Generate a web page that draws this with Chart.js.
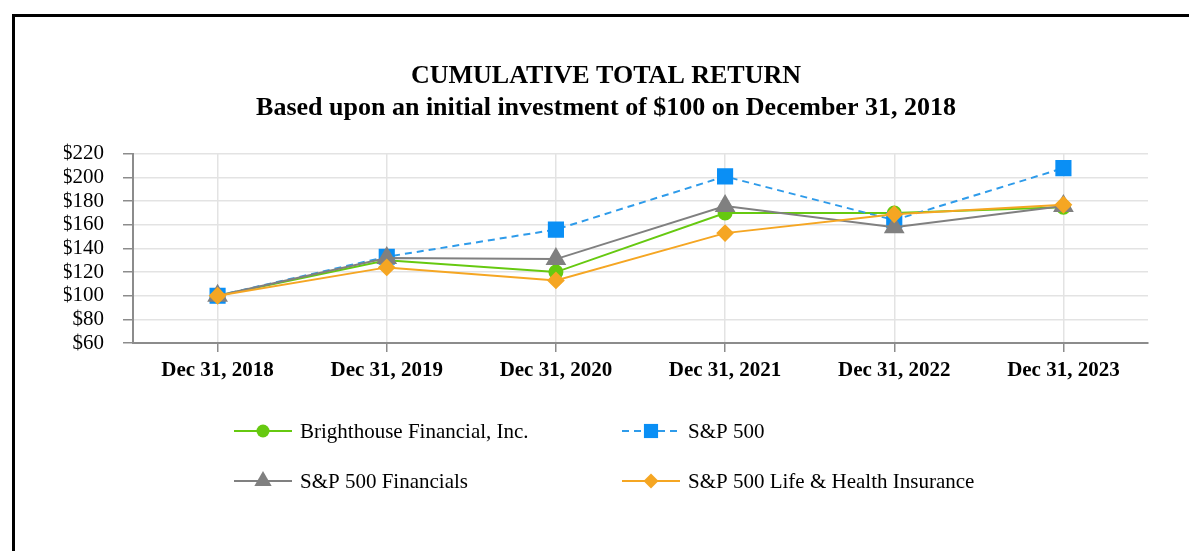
<!DOCTYPE html>
<html>
<head>
<meta charset="utf-8">
<script src="https://cdn.jsdelivr.net/npm/chart.js@4.4.1/dist/chart.umd.min.js"></script>
<style>
  html, body { margin: 0; padding: 0; background: #fff; }
  #wrap { position: relative; width: 1189px; height: 551px; overflow: hidden; }
  #frame { position: absolute; left: 12px; top: 14px; width: 1300px; height: 700px;
           border-left: 3px solid #000; border-top: 3px solid #000; box-sizing: border-box; }
  canvas { position: absolute; left: 0; top: 0; }
</style>
</head>
<body>
<div id="wrap">
  <div id="frame"></div>
  <canvas id="returnChart" width="1189" height="551"></canvas>
</div>
<script>
// values
const years = ['Dec 31, 2018', 'Dec 31, 2019', 'Dec 31, 2020', 'Dec 31, 2021', 'Dec 31, 2022', 'Dec 31, 2023'];
const brighthouse = [100, 130, 120, 170, 170, 175];
const sp500 = [100, 133, 156, 201, 164, 208];
const sp500Financials = [100, 132, 131, 176, 158, 176];
const sp500LifeHealth = [100, 124, 113, 153, 169, 177];
const titleLines = ['CUMULATIVE TOTAL RETURN', 'Based upon an initial investment of $100 on December 31, 2018'];

const serif = "'Liberation Serif', 'Times New Roman', serif";

// legend drawn by hand in two columns, like the original
const legendPlugin = {
    id: 'twoColLegend',
    afterDraw(chart) {
        const ctx = chart.ctx;
        const cols = [234, 622];
        const rows = [431, 481];
        chart.data.datasets.forEach(function(ds, i) {
            const x = cols[i % 2];
            const y = rows[Math.floor(i / 2)];
            ctx.save();
            ctx.strokeStyle = ds.borderColor;
            ctx.lineWidth = 2;
            ctx.setLineDash(ds.borderDash || []);
            ctx.beginPath();
            ctx.moveTo(x, y);
            ctx.lineTo(x + 58, y);
            ctx.stroke();
            ctx.setLineDash([]);
            ctx.fillStyle = ds.pointBackgroundColor;
            ctx.strokeStyle = ds.pointBackgroundColor;
            Chart.helpers.drawPoint(ctx, {
                pointStyle: ds.pointStyle,
                radius: ds.pointRadius,
                rotation: 0,
                borderWidth: 0
            }, x + 29, y);
            ctx.fillStyle = '#000';
            ctx.font = '21px ' + serif;
            ctx.textBaseline = 'middle';
            ctx.textAlign = 'left';
            ctx.fillText(ds.label, x + 66, y + 1);
            ctx.restore();
        });
    }
};

const ctx = document.getElementById('returnChart').getContext('2d');

new Chart(ctx, {
    type: 'line',
    data: {
        labels: years,
        datasets: [
            {
                label: 'Brighthouse Financial, Inc.',
                data: brighthouse,
                borderColor: '#66C910',
                pointBackgroundColor: '#66C910',
                pointBorderColor: '#66C910',
                pointStyle: 'circle',
                pointRadius: 6.5,
                borderWidth: 2,
                order: 3
            },
            {
                label: 'S&P 500',
                data: sp500,
                borderColor: '#2E9BEA',
                borderDash: [7, 5],
                pointBackgroundColor: '#0A8FF5',
                pointBorderColor: '#0A8FF5',
                pointStyle: 'rect',
                pointRadius: 10,
                borderWidth: 2,
                order: 2
            },
            {
                label: 'S&P 500 Financials',
                data: sp500Financials,
                borderColor: '#808080',
                pointBackgroundColor: '#808080',
                pointBorderColor: '#808080',
                pointStyle: 'triangle',
                pointRadius: 10,
                borderWidth: 2,
                order: 1
            },
            {
                label: 'S&P 500 Life & Health Insurance',
                data: sp500LifeHealth,
                borderColor: '#F5A623',
                pointBackgroundColor: '#F5A623',
                pointBorderColor: '#F5A623',
                pointStyle: 'rectRot',
                pointRadius: 7.5,
                borderWidth: 2,
                order: 0
            }
        ]
    },
    options: {
        responsive: false,
        animation: false,
        events: [],
        layout: {
            padding: { left: 64, right: 41, top: 0, bottom: 168 }
        },
        plugins: {
            legend: { display: false },
            tooltip: { enabled: false },
            title: {
                display: true,
                text: titleLines,
                color: '#000',
                font: { family: serif, size: 26, weight: 'bold', lineHeight: 1.23 },
                padding: { top: 60, bottom: 30 }
            }
        },
        elements: {
            line: { tension: 0 },
            point: { borderWidth: 0 }
        },
        scales: {
            x: {
                offset: true,
                afterFit: function(scale) { scale.height = 40; },
                grid: {
                    color: '#E3E3E3',
                    lineWidth: 1.5,
                    offset: false,
                    drawTicks: true,
                    tickLength: 9,
                    tickColor: '#8C8C8C',
                    tickWidth: 1.5
                },
                border: { color: '#8C8C8C', width: 2 },
                ticks: {
                    color: '#000',
                    padding: 6,
                    maxRotation: 0,
                    font: { family: serif, size: 21, weight: 'bold' }
                }
            },
            y: {
                min: 60,
                max: 220,
                afterFit: function(scale) { scale.width = 69; },
                grid: {
                    color: '#E3E3E3',
                    lineWidth: 1.5,
                    drawTicks: true,
                    tickLength: 10,
                    tickColor: '#8C8C8C',
                    tickWidth: 1.5
                },
                border: { color: '#8C8C8C', width: 2 },
                ticks: {
                    stepSize: 20,
                    autoSkip: false,
                    color: '#000',
                    padding: 19,
                    font: { family: serif, size: 21 },
                    callback: function(v) { return '$' + v; }
                }
            }
        }
    },
    plugins: [legendPlugin]
});
</script>
</body>
</html>
